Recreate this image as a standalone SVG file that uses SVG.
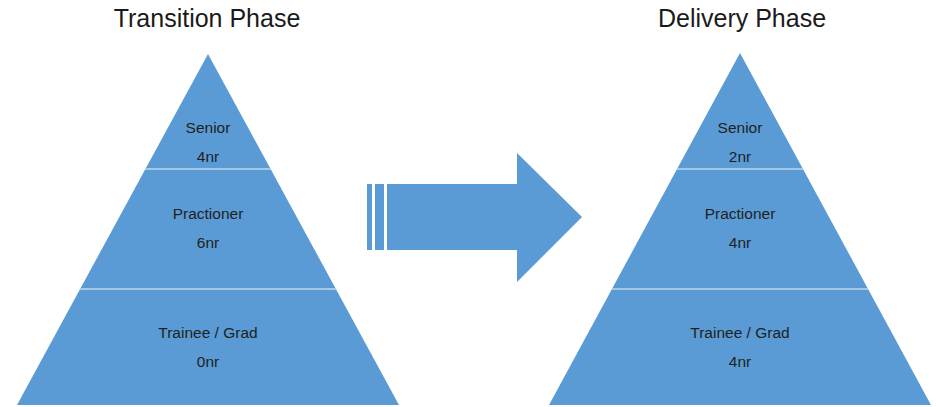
<svg xmlns="http://www.w3.org/2000/svg" width="936" height="407" viewBox="0 0 936 407">
<style>
.shape{fill:#5B9BD5}
.sep{stroke:#BDD7EE;stroke-width:1.5}
.title{font-family:"Liberation Sans",Arial,sans-serif;font-size:25px;fill:#1a1a1a;text-anchor:middle}
.lbl{font-family:"Liberation Sans",Arial,sans-serif;font-size:15.5px;fill:#1f1f1f;text-anchor:middle}
</style>
<rect width="936" height="407" fill="#ffffff"/>
<text class="title" x="207" y="27">Transition Phase</text>
<text class="title" x="742" y="27">Delivery Phase</text>
<g id="pyramid-left">
<polygon class="shape" points="208,54 399,405 17,405"/>
<line class="sep" x1="145" y1="169" x2="271" y2="169"/>
<line class="sep" x1="80" y1="289" x2="336" y2="289"/>
<text class="lbl" x="208" y="133">Senior</text>
<text class="lbl" x="208" y="162">4nr</text>
<text class="lbl" x="208" y="219">Practioner</text>
<text class="lbl" x="208" y="248">6nr</text>
<text class="lbl" x="208" y="338">Trainee / Grad</text>
<text class="lbl" x="208" y="367">0nr</text>
</g>
<g id="pyramid-right">
<polygon class="shape" points="740,53 931,405 549,405"/>
<line class="sep" x1="677" y1="169" x2="803" y2="169"/>
<line class="sep" x1="612" y1="289" x2="868" y2="289"/>
<text class="lbl" x="740" y="133">Senior</text>
<text class="lbl" x="740" y="162">2nr</text>
<text class="lbl" x="740" y="219">Practioner</text>
<text class="lbl" x="740" y="248">4nr</text>
<text class="lbl" x="740" y="338">Trainee / Grad</text>
<text class="lbl" x="740" y="367">4nr</text>
</g>
<g id="connectors">
<rect class="shape" x="367" y="184" width="5" height="66"/>
<rect class="shape" x="375" y="184" width="9" height="66"/>
<polygon class="shape" points="387,184 517,184 517,153 582,217 517,282 517,250 387,250"/>
</g>
</svg>
